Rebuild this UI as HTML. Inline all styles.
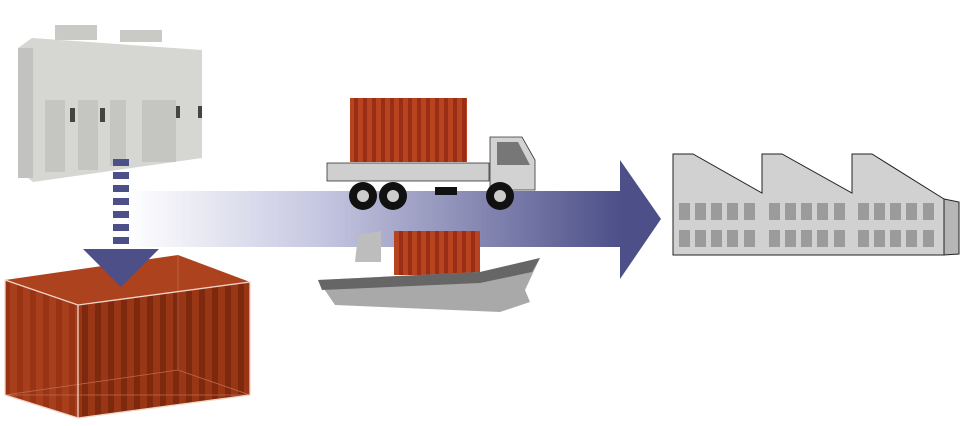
<!DOCTYPE html>
<html><head><meta charset="utf-8"><style>html,body{margin:0;padding:0;background:#fff}svg{display:block}</style></head><body>
<svg width="972" height="426" viewBox="0 0 972 426" xmlns="http://www.w3.org/2000/svg">
<defs>
<linearGradient id="band" x1="0" x2="1"><stop offset="0" stop-color="#fff"/><stop offset="0.4" stop-color="#c4c5e0"/><stop offset="1" stop-color="#4c4f88"/></linearGradient>
<pattern id="rib" width="9" height="10" patternUnits="userSpaceOnUse"><rect width="9" height="10" fill="#b8431f"/><rect x="3" width="4" height="10" fill="#9a2d16"/></pattern>
<pattern id="rib2" width="13" height="10" patternUnits="userSpaceOnUse"><rect width="13" height="10" fill="#993616"/><rect x="4" width="6" height="10" fill="#7e280e"/></pattern>
<pattern id="rib3" width="13" height="10" patternUnits="userSpaceOnUse"><rect width="13" height="10" fill="#a83f1c"/><rect x="4" width="6" height="10" fill="#983414"/></pattern>
</defs>
<!-- band arrow -->
<rect x="128" y="191" width="494" height="56" fill="url(#band)"/>
<polygon points="620,160 661,219 620,279" fill="#4c4f88"/>
<!-- cabinet -->
<rect x="55" y="25" width="42" height="15" fill="#c9c9c6"/><rect x="120" y="30" width="42" height="12" fill="#c9c9c6"/>
<polygon points="18,48 32,38 202,50 202,158 33,182 18,170" fill="#d6d6d3"/>
<rect x="18" y="48" width="15" height="130" fill="#c2c2c0"/>
<rect x="45" y="100" width="20" height="72" fill="#c5c5c2"/><rect x="78" y="100" width="20" height="70" fill="#c5c5c2"/><rect x="110" y="100" width="16" height="66" fill="#c5c5c2"/><rect x="142" y="100" width="34" height="62" fill="#c5c5c2"/>
<rect x="70" y="108" width="5" height="14" fill="#444"/><rect x="100" y="108" width="5" height="14" fill="#444"/><rect x="176" y="106" width="4" height="12" fill="#444"/><rect x="198" y="106" width="4" height="12" fill="#444"/>
<!-- container left -->
<polygon points="5,280 5,395 78,418 78,305" fill="url(#rib3)"/>
<polygon points="5,280 78,305 250,282 178,255" fill="#ad431e"/>
<polygon points="78,305 250,282 250,395 78,418" fill="url(#rib2)"/>
<polygon points="5,395 178,370 250,395" fill="none" stroke="#c06a4a" stroke-width="0.8"/>
<line x1="178" y1="255" x2="178" y2="370" stroke="#c06a4a" stroke-width="0.8"/>
<polygon points="5,280 78,305 250,282 250,395 78,418 5,395" fill="none" stroke="#f3d6c8" stroke-width="1.3"/>
<line x1="78" y1="305" x2="78" y2="418" stroke="#f3d6c8" stroke-width="1.3"/>
<!-- dashes + down arrow -->
<g fill="#4c4f88"><rect x="113" y="159" width="16" height="7"/><rect x="113" y="172" width="16" height="7"/><rect x="113" y="185" width="16" height="7"/><rect x="113" y="198" width="16" height="7"/><rect x="113" y="211" width="16" height="7"/><rect x="113" y="224" width="16" height="7"/><rect x="113" y="237" width="16" height="7"/></g>
<polygon points="83,249 159,249 121,287" fill="#4c4f88"/>
<!-- truck -->
<rect x="350" y="98" width="117" height="64" fill="url(#rib)"/>
<rect x="327" y="163" width="162" height="18" fill="#cfcfcf" stroke="#333" stroke-width="0.8"/>
<polygon points="490,137 522,137 535,160 535,190 490,190" fill="#d2d2d2" stroke="#333" stroke-width="0.8"/>
<polygon points="497,142 518,142 530,165 497,165" fill="#777"/>
<rect x="435" y="187" width="22" height="8" fill="#111"/>
<g fill="#111"><circle cx="363" cy="196" r="14"/><circle cx="393" cy="196" r="14"/><circle cx="500" cy="196" r="14"/></g>
<g fill="#ccc"><circle cx="363" cy="196" r="6"/><circle cx="393" cy="196" r="6"/><circle cx="500" cy="196" r="6"/></g>
<!-- ship -->
<polygon points="358,235 381,231 381,262 355,262" fill="#bdbdbd"/>
<rect x="394" y="231" width="86" height="44" fill="url(#rib)"/>
<polygon points="318,280 480,272 540,258 525,290 530,302 500,312 335,305" fill="#a9a9a9"/>
<polygon points="318,280 480,272 540,258 532,272 480,283 322,290" fill="#666"/>
<!-- factory -->
<polygon points="673,154 693,154 762,193 762,154 782,154 852,193 852,154 872,154 944,199 944,255 673,255" fill="#d0d1d0" stroke="#222" stroke-width="1"/>
<polygon points="944,199 959,202 959,254 944,255" fill="#b5b6b5" stroke="#222" stroke-width="1"/>
<g fill="#9b9b9b">
<rect x="679" y="203" width="11" height="17"/><rect x="695" y="203" width="11" height="17"/><rect x="711" y="203" width="11" height="17"/><rect x="727" y="203" width="11" height="17"/><rect x="744" y="203" width="11" height="17"/>
<rect x="769" y="203" width="11" height="17"/><rect x="785" y="203" width="11" height="17"/><rect x="801" y="203" width="11" height="17"/><rect x="817" y="203" width="11" height="17"/><rect x="834" y="203" width="11" height="17"/>
<rect x="858" y="203" width="11" height="17"/><rect x="874" y="203" width="11" height="17"/><rect x="890" y="203" width="11" height="17"/><rect x="906" y="203" width="11" height="17"/><rect x="923" y="203" width="11" height="17"/>
<rect x="679" y="230" width="11" height="17"/><rect x="695" y="230" width="11" height="17"/><rect x="711" y="230" width="11" height="17"/><rect x="727" y="230" width="11" height="17"/><rect x="744" y="230" width="11" height="17"/>
<rect x="769" y="230" width="11" height="17"/><rect x="785" y="230" width="11" height="17"/><rect x="801" y="230" width="11" height="17"/><rect x="817" y="230" width="11" height="17"/><rect x="834" y="230" width="11" height="17"/>
<rect x="858" y="230" width="11" height="17"/><rect x="874" y="230" width="11" height="17"/><rect x="890" y="230" width="11" height="17"/><rect x="906" y="230" width="11" height="17"/><rect x="923" y="230" width="11" height="17"/>
</g>
</svg>
</body></html>
